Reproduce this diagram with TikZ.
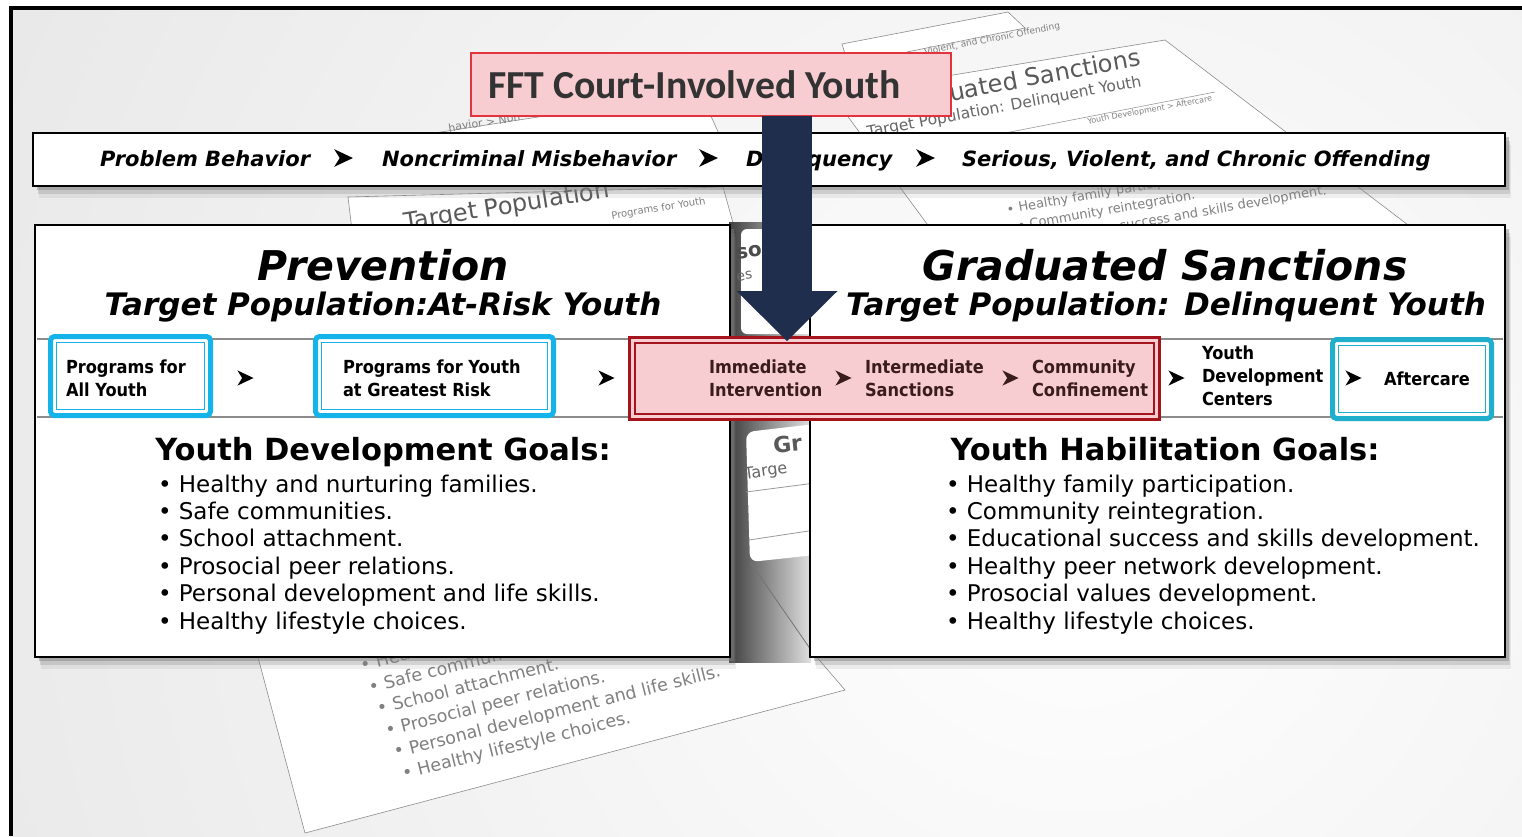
\documentclass[tikz,border=0pt]{standalone}
\usepackage{fontspec}
\setmainfont{DejaVu Sans}
\newfontfamily\condf[FakeStretch=0.9]{DejaVu Sans}
\newfontfamily\carlito{Carlito}
\usetikzlibrary{shadows,arrows.meta,calc}
\definecolor{navy}{HTML}{1E2E4C}
\definecolor{fftpink}{HTML}{F7CDD1}
\definecolor{fftred}{HTML}{E2343F}
\definecolor{dred}{HTML}{A3141C}
\definecolor{cyanb}{HTML}{14B4EA}
\definecolor{cyanc}{HTML}{20AECD}
\definecolor{redtext}{HTML}{3A1C1C}
\newcommand\fs[1]{\fontsize{#1}{#1}\selectfont}
\begin{document}
\begin{tikzpicture}[x=1pt,y=-1pt,
  lab/.style={anchor=base west, inner sep=0pt, outer sep=0pt},
  clab/.style={anchor=base, inner sep=0pt, outer sep=0pt},
  bartxt/.style={lab, font=\bfseries\itshape\fs{21}},
  ttl/.style={clab, font=\bfseries\itshape\fs{41}},
  sttl/.style={clab, font=\bfseries\itshape\fs{31}},
  goalhd/.style={clab, font=\bfseries\fs{30.5}},
  goalitem/.style={lab, font=\fs{23}},
  stagetxt/.style={lab, font=\condf\bfseries\fs{18}},
  redtxt/.style={stagetxt, text=redtext},
  fadetxt/.style={lab, text=black!50},
  sheet/.style={fill=white, draw=black!45, line width=0.6pt},
  panel/.style={draw=black, line width=2.5pt, fill=white, inner sep=0pt, outer sep=0pt, anchor=north west,
     drop shadow={opacity=0.12, shadow xshift=6pt, shadow yshift=-12pt},
     drop shadow={opacity=0.25, shadow xshift=5pt, shadow yshift=-8pt},
     drop shadow={opacity=0.45, shadow xshift=4pt, shadow yshift=-4pt}},
  stagebox/.style={draw=cyanb, line width=5pt, rounded corners=4pt, fill=white, inner sep=0pt, outer sep=0pt},
  inline/.style={line width=1.5pt},
  band/.style={draw=black!45, line width=2pt},
  chev/.pic={\fill (-8,-8) -- (9,0) -- (-8,8) -- (-3,0) -- cycle;}
]
\useasboundingbox (0,0) rectangle (1522,836);
% ---------- background ----------
\fill[white] (0,0) rectangle (1522,836);
\begin{scope}
  \clip (11,8) rectangle (1522,836);
  \fill[black!14] (11,8) rectangle (1522,836);
  \shade[inner color=white, outer color=black!14] (1080,520) circle (1900);
\end{scope}
\draw[line width=4pt, line join=miter] (11,836) -- (11,8) -- (1522,8);

% ---------- faded sheets behind ----------
% top-right strip
\filldraw[sheet] (842,44) -- (1008,12) -- (1025,28) -- (848,64) -- cycle;
\node[fadetxt, font=\fs{9}, rotate=11] (fsv) at (925,55) {Violent, and Chronic Offending};
% top-right sheet
\filldraw[sheet] (832,95) -- (1165,40) -- (1412,228) -- (930,228) -- cycle;
\draw[black!40, line width=0.6pt] (1000,134) -- (1215,92);
\node[lab, text=black!65, font=\fs{24}, rotate=10.5] (fgs) at (951,101) {uated Sanctions};
\node[lab, text=black!60, font=\fs{15.5}, rotate=10.5] (ftp) at (868,137) {Target Population: Delinquent Youth};
\node[fadetxt, font=\fs{8}, rotate=10.5] (fyd) at (1088,124) {Youth Development > Aftercare};
\node[fadetxt, anchor=north west, align=left, font=\fontsize{13}{18}\selectfont, rotate=10]
  (fhab) at (1006,204.3) {• Healthy family participation.\\
  \hspace*{8pt}• Community reintegration.\\
  \hspace*{16pt}\phantom{• Educational }success and skills development.};
% left strip above bar
\filldraw[sheet] (415,136) -- (700,92) -- (720,136) -- cycle;
\node[fadetxt, font=\fs{11}, rotate=9] (fpb) at (449,132) {havior > Non};
% left sheet between bar and panel
\filldraw[sheet] (348,197) -- (723,187) -- (735,230) -- (352,230) -- cycle;
\node[lab, text=black!65, font=\fs{24}, rotate=9] (ftl) at (405,230) {Target Population};
\node[fadetxt, font=\fs{10}, rotate=9] (fpy) at (612,219) {Programs for Youth};
% bottom-left sheet
\filldraw[sheet] (240,590) -- (759,590) -- (845,690) -- (305,833) -- cycle;
\node[fadetxt, anchor=north west, align=left, font=\fontsize{17.5}{23}\selectfont, rotate=14]
  (fbl) at (358.8,659.1) {• Hea\\
  \hspace*{2.9pt}• Safe commun\\
  \hspace*{5.8pt}• School attachment.\\
  \hspace*{8.7pt}• Prosocial peer relations.\\
  \hspace*{11.6pt}• Personal development and life skills.\\
  \hspace*{14.5pt}• Healthy lifestyle choices.};

% ---------- gap between the panels ----------
\begin{scope}
  \clip (729,222) rectangle (811,662);
  \shade[left color=black!75, right color=black!12] (729,222) rectangle (811,662);
  \fill[white, rounded corners=6pt] (741,229) rectangle (815,334);
  \node[lab, text=black!70, font=\bfseries\fs{20}, rotate=8] (gso) at (737,259) {so};
  \node[lab, text=black!60, font=\fs{14}, rotate=8] (ges) at (737,281) {es};
  \fill[white, rounded corners=8pt] (746,432) -- (815,424) -- (815,555) -- (750,562) -- cycle;
  \node[lab, text=black!65, font=\bfseries\fs{22}, rotate=6] (ggr) at (774,453) {Gr};
  \node[lab, text=black!60, font=\fs{16}, rotate=8] (gtg) at (745,479) {Targe};
  \draw[black!40, line width=0.8pt] (746,492) -- (815,483) (749,540) -- (815,530);
  \draw[black!55, line width=0.8pt] (750,562) -- (811,650);
\end{scope}

% ---------- top bar ----------
\node[panel, minimum width=1472pt, minimum height=53pt] (bar) at (33,133) {};
\node[bartxt] (s1) at (100,166) {Problem Behavior};
\pic[scale=1.1] (c1) at (343,158) {chev};
\node[bartxt] (s2) at (382,166) {Noncriminal Misbehavior};
\pic[scale=1.1] (c2) at (708,158) {chev};
\node[bartxt] (s3) at (746,166) {Delinquency};
\pic[scale=1.1] (c3) at (925,158) {chev};
\node[bartxt] (s4) at (962,166) {Serious, Violent, and Chronic Offending};

% ---------- panels ----------
\node[panel, minimum width=695pt, minimum height=432pt] (prev) at (35,225) {};
\node[panel, minimum width=695pt, minimum height=432pt] (grad) at (810,225) {};

\node[ttl] (prevt) at (383,280) {Prevention};
\node[sttl] (prevs) at (383,315) {Target Population:At-Risk Youth};
\node[ttl] (gradt) at (1165,280) {Graduated Sanctions};
\node[sttl] (grads) at (1166,315) {Target Population: Delinquent Youth};

% bands
\draw[band] (37,339) -- (728,339) (37,417) -- (728,417);
\draw[band] (812,339) -- (1503,339) (812,417) -- (1503,417);

% stage boxes
\node[stagebox, minimum width=160pt, minimum height=79pt] (pa) at (130.5,376) {};
\draw[cyanb, inline] ($(pa.north west)+(6,6)$) rectangle ($(pa.south east)+(-6,-6)$);
\node[stagebox, minimum width=238pt, minimum height=79pt] (pr) at (434.5,376) {};
\draw[cyanb, inline] ($(pr.north west)+(6,6)$) rectangle ($(pr.south east)+(-6,-6)$);
\node[stagebox, draw=cyanc, minimum width=159pt, minimum height=79pt] (af) at (1412,379) {};
\draw[cyanc, inline] ($(af.north west)+(6,6)$) rectangle ($(af.south east)+(-6,-6)$);
\node[draw=dred, line width=3pt, fill=fftpink, inner sep=0pt, outer sep=0pt,
      minimum width=530pt, minimum height=82pt] (red) at (894.5,378.5) {};
\draw[dred, line width=2pt] ($(red.north west)+(5.5,5.5)$) rectangle ($(red.south east)+(-5.5,-5.5)$);

\node[stagetxt] (pa1) at (66,373) {Programs for};
\node[stagetxt] (pa2) at (66,396) {All Youth};
\pic[scale=0.95] (c4) at (245,378) {chev};
\node[stagetxt] (pr1) at (343,373) {Programs for Youth};
\node[stagetxt] (pr2) at (343,396) {at Greatest Risk};
\pic[scale=0.95] (c5) at (606,378) {chev};
\node[redtxt] (ii1) at (709,373) {Immediate};
\node[redtxt] (ii2) at (709,396) {Intervention};
\pic[scale=0.95, redtext] (c6) at (843,378) {chev};
\node[redtxt] (is1) at (865,373) {Intermediate};
\node[redtxt] (is2) at (865,396) {Sanctions};
\pic[scale=0.95, redtext] (c7) at (1010,378) {chev};
\node[redtxt] (cc1) at (1032,373) {Community};
\node[redtxt] (cc2) at (1032,396) {Confinement};
\pic[scale=0.95] (c8) at (1176,378) {chev};
\node[stagetxt] (yd1) at (1202,359) {Youth};
\node[stagetxt] (yd2) at (1202,382) {Development};
\node[stagetxt] (yd3) at (1202,405) {Centers};
\pic[scale=0.95] (c9) at (1353,378) {chev};
\node[stagetxt] (aft) at (1384,385) {Aftercare};

% goals
\node[goalhd] (gl) at (383,460) {Youth Development Goals:};
\node[goalitem] (l1) at (158,492) {• Healthy and nurturing families.};
\node[goalitem] (l2) at (158,519.4) {• Safe communities.};
\node[goalitem] (l3) at (158,546.8) {• School attachment.};
\node[goalitem] (l4) at (158,574.2) {• Prosocial peer relations.};
\node[goalitem] (l5) at (158,601.6) {• Personal development and life skills.};
\node[goalitem] (l6) at (158,629) {• Healthy lifestyle choices.};

\node[goalhd] (gr) at (1165,460) {Youth Habilitation Goals:};
\node[goalitem] (r1) at (946,492) {• Healthy family participation.};
\node[goalitem] (r2) at (946,519.4) {• Community reintegration.};
\node[goalitem] (r3) at (946,546.8) {• Educational success and skills development.};
\node[goalitem] (r4) at (946,574.2) {• Healthy peer network development.};
\node[goalitem] (r5) at (946,601.6) {• Prosocial values development.};
\node[goalitem] (r6) at (946,629) {• Healthy lifestyle choices.};

% ---------- FFT box and arrow ----------
\node[fill=fftpink, draw=fftred, line width=1.3pt, inner sep=0pt, outer sep=0pt,
      minimum width=480pt, minimum height=63pt] (fft) at (711,84.5) {};
\node[lab, font=\carlito\bfseries\fs{39.7}, text=black!80] (fftt) at (488,98) {FFT Court-Involved Youth};
\coordinate (aS) at (787,116);
\coordinate (aE) at (787,341);
\draw[navy, line width=50pt, -{Triangle[width=101pt, length=50pt, line width=0pt]}] (aS) -- (aE);
\end{tikzpicture}
\end{document}
